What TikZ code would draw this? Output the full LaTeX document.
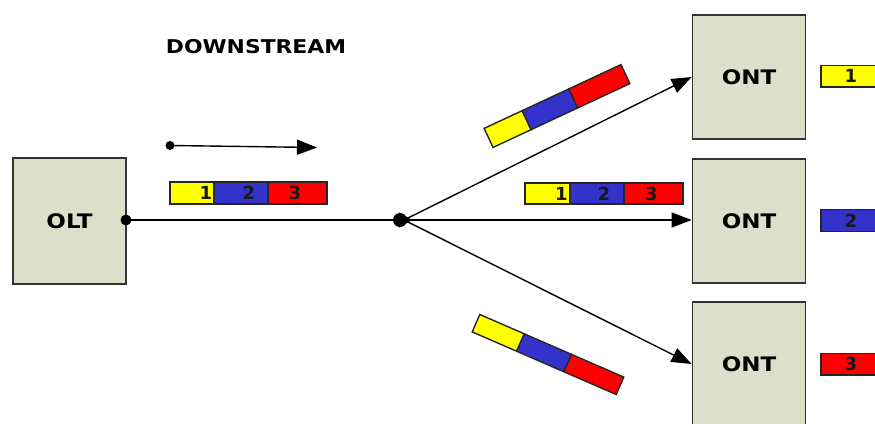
\documentclass[tikz,border=0pt]{standalone}
\usepackage{fontspec}
\setmainfont{DejaVu Sans}
\newfontfamily\labfont[FakeStretch=1.15]{DejaVu Sans}
\usetikzlibrary{arrows.meta}
\definecolor{boxfill}{RGB}{220,223,201}
\definecolor{fyellow}{RGB}{255,255,0}
\definecolor{fblue}{RGB}{51,51,204}
\definecolor{fred}{RGB}{255,0,0}
\begin{document}
\begin{tikzpicture}[x=1pt,y=-1pt,line width=1.4pt,
  box/.style={draw=black!80,line width=1.8pt,fill=boxfill,minimum width=113pt,minimum height=124pt,inner sep=0pt,font=\labfont\bfseries\fontsize{20}{20}\selectfont},
  arr/.style={-{Triangle[length=20pt,width=15pt]}},
  barline/.style={draw=black!85,line width=1.4pt},
  digit/.style={inner sep=0pt,font=\bfseries\fontsize{18}{18}\selectfont,text=black!90},
  title/.style={inner sep=0pt,font=\labfont\bfseries\fontsize{19}{19}\selectfont}]
\useasboundingbox (0,0) rectangle (875,423);
\clip (0,0) rectangle (875,423);

% boxes
\node[box,minimum height=126pt] (olt) at (69.5,221) {OLT};
\node[box] (ont1) at (749,77) {ONT};
\node[box] (ont2) at (749,221) {ONT};
\node[box] (ont3) at (749,364) {ONT};

\node[title] (ds) at (256,47) {DOWNSTREAM};

% direction arrow
\coordinate (da) at (170,145.5);
\coordinate (db) at (317,147.5);
\fill (da) circle (4.5);
\draw[arr] (da) -- (db);

% connectors
\coordinate (oltp) at (126,220);
\coordinate (spl) at (404,220);
\fill (oltp) circle (5.5);
\draw[-{Triangle[length=13pt,width=15pt]}] (oltp) -- (412,220);
\fill (400,220) circle (7);
\draw[arr] (spl) -- (ont1.west);
\draw[arr] (spl) -- (ont2.west |- spl);
\draw[arr] (spl) -- (ont3.west);

% frame bar under direction arrow
\draw[barline,fill=fyellow] (170,182) rectangle (214,204);
\draw[barline,fill=fblue] (214,182) rectangle (268,204);
\draw[barline,fill=fred] (268,182) rectangle (327,204);
\node[digit] (a1) at (206,193) {1};
\node[digit] (a2) at (249,193) {2};
\node[digit] (a3) at (295,193) {3};

% frame bar on middle branch
\draw[barline,fill=fyellow] (525,183) rectangle (570,204);
\draw[barline,fill=fblue] (570,183) rectangle (624,204);
\draw[barline,fill=fred] (624,183) rectangle (683,204);
\node[digit] (b1) at (561.5,193.5) {1};
\node[digit] (b2) at (604,193.5) {2};
\node[digit] (b3) at (651.5,193.5) {3};

% tilted bar, upper branch
\begin{scope}[shift={(557,106)},rotate=25]
\draw[barline,fill=fyellow] (-75.5,-10.5) rectangle (-33.5,10.5);
\draw[barline,fill=fblue] (-33.5,-10.5) rectangle (18,10.5);
\draw[barline,fill=fred] (18,-10.5) rectangle (75.5,10.5);
\end{scope}

% tilted bar, lower branch
\begin{scope}[shift={(548,354.5)},rotate=-23.5]
\draw[barline,fill=fyellow] (-78.5,-9.5) rectangle (-30,9.5);
\draw[barline,fill=fblue] (-30,-9.5) rectangle (21.5,9.5);
\draw[barline,fill=fred] (21.5,-9.5) rectangle (78.5,9.5);
\end{scope}

% received frames
\draw[barline,fill=fyellow] (821,65.5) rectangle (885,87);
\node[digit] (r1) at (851,76) {1};
\draw[barline,fill=fblue] (821,209.5) rectangle (885,231.5);
\node[digit] (r2) at (851,220.5) {2};
\draw[barline,fill=fred] (821,353.5) rectangle (885,375);
\node[digit] (r3) at (851,364) {3};
\end{tikzpicture}
\end{document}
